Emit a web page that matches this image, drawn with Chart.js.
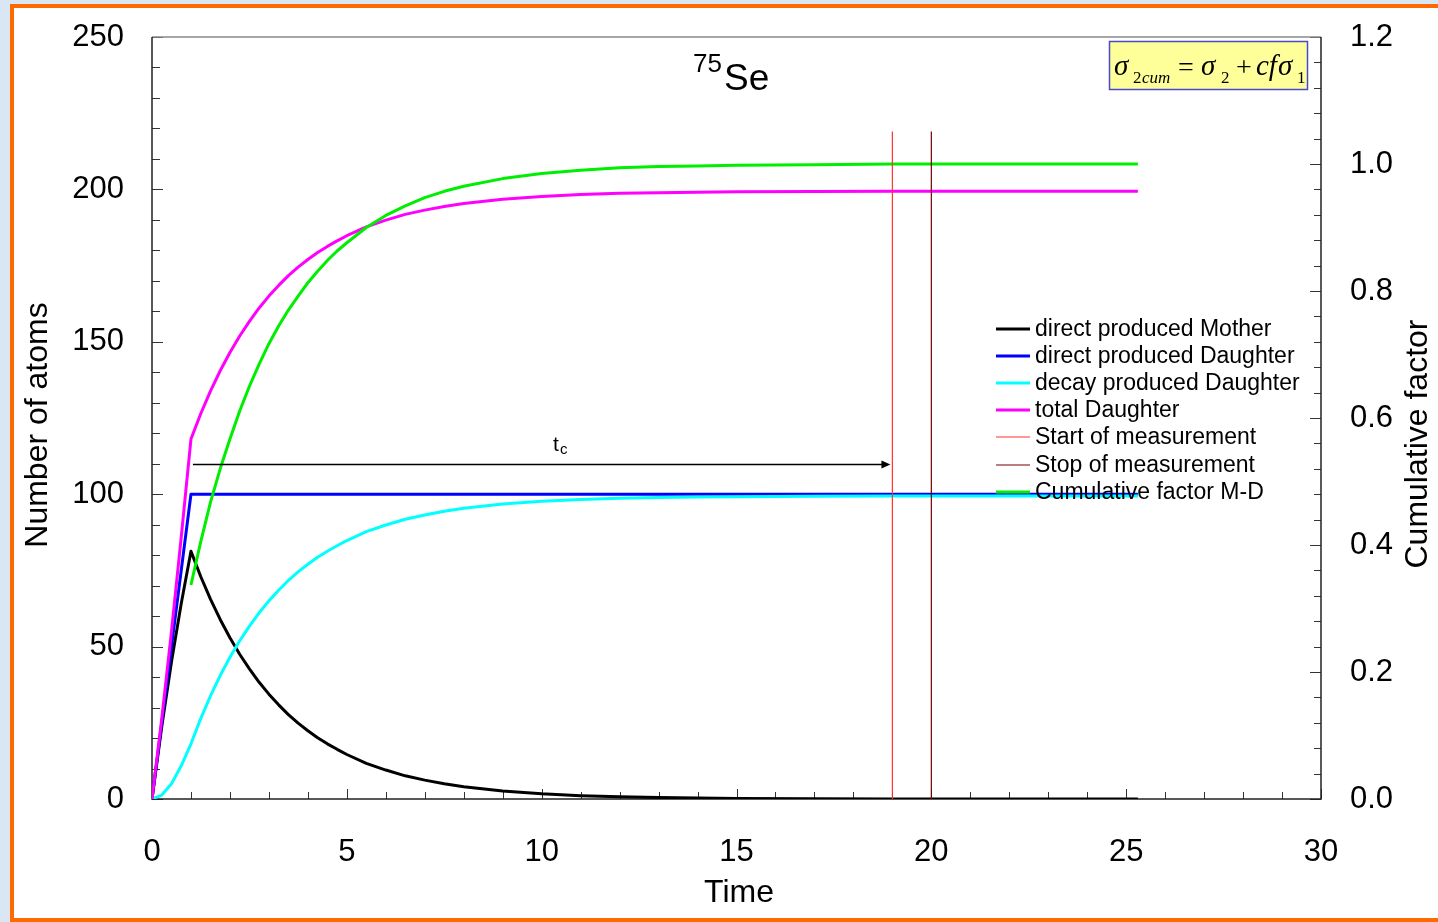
<!DOCTYPE html>
<html>
<head>
<meta charset="utf-8">
<script src="https://cdn.jsdelivr.net/npm/chart.js@4.4.0/dist/chart.umd.min.js"></script>
<style>
  html, body { margin: 0; padding: 0; width: 1438px; height: 922px; overflow: hidden; background: #d9e7f4; }
  #frame { position: absolute; left: 10px; top: 4px; width: 1440px; height: 910px; border: 4px solid #ff6a00; background: #fff; }
  #plot { position: absolute; left: 0; top: 0; }
</style>
</head>
<body>
<div id="frame"></div>
<canvas id="plot" width="1438" height="922"></canvas>
<script>
// time axis (same grid for every series)
const time = [0, 0.25, 0.5, 0.75, 1, 1.25, 1.5, 1.75, 2, 2.25, 2.5, 2.75, 3, 3.25, 3.5, 3.75, 4, 4.25, 4.5, 4.75, 5,
  5.5, 6, 6.5, 7, 7.5, 8, 9, 10, 11, 12, 13, 14, 15, 17, 19, 21, 23, 25.3];

const mother = [0, 23.7, 45.0, 64.1, 81.3, 73.0, 65.6, 58.9, 52.9, 47.5, 42.7, 38.3, 34.4, 30.9, 27.7, 24.9, 22.4, 20.1, 18.1, 16.3, 14.6,
  11.7, 9.5, 7.6, 6.2, 5.0, 4.0, 2.6, 1.7, 1.1, 0.7, 0.5, 0.3, 0.2, 0.1, 0, 0, 0, 0];

const directDaughter = [0, 25, 50, 75, 100, 100, 100, 100, 100, 100, 100, 100, 100, 100, 100, 100, 100, 100, 100, 100, 100,
  100, 100, 100, 100, 100, 100, 100, 100, 100, 100, 100, 100, 100, 100, 100, 100, 100, 100];

const decayDaughter = [0, 1.3, 5.0, 10.9, 18.1, 26.4, 33.8, 40.5, 46.5, 51.9, 56.7, 61.1, 65.0, 68.5, 71.7, 74.5, 77.0, 79.3, 81.3, 83.1, 84.8,
  87.7, 89.9, 91.8, 93.2, 94.4, 95.4, 96.8, 97.7, 98.3, 98.7, 98.9, 99.1, 99.2, 99.3, 99.4, 99.4, 99.4, 99.4];

const totalDaughter = [0, 26.3, 55.0, 85.9, 118.1, 126.4, 133.8, 140.5, 146.5, 151.9, 156.7, 161.1, 165.0, 168.5, 171.7, 174.5, 177.0, 179.3, 181.3, 183.1, 184.8,
  187.7, 189.9, 191.8, 193.2, 194.4, 195.4, 196.8, 197.7, 198.3, 198.7, 198.9, 199.1, 199.2, 199.3, 199.4, 199.4, 199.4, 199.4];

// right axis
const cumFactor = [null, null, null, null, 0.337, 0.405, 0.467, 0.520, 0.567, 0.611, 0.650, 0.685, 0.717, 0.745, 0.770, 0.792, 0.813, 0.831, 0.848, 0.863, 0.876,
  0.900, 0.919, 0.934, 0.947, 0.957, 0.965, 0.977, 0.985, 0.990, 0.994, 0.996, 0.997, 0.998, 0.999, 1.0, 1.0, 1.0, 1.0];

// measurement window
const startTime = 19;
const stopTime = 20;
const markerTop = 219;
const tcSpan = [1.05, 18.95];
const tcLevel = 110;

const pts = (ys) => time.map((t, i) => ({ x: t, y: ys[i] }));
const vline = (t) => [{ x: t, y: 0 }, { x: t, y: markerTop }];

const FONT = "'Liberation Sans', Arial, sans-serif";
const SERIF = "'Liberation Serif', 'Times New Roman', serif";

const frameTicks = {
  id: 'frameTicks',
  beforeDatasetsDraw(chart) {
    const { ctx, chartArea: a, scales: { x, y, y1 } } = chart;
    ctx.save();
    ctx.lineWidth = 1;
    ctx.strokeStyle = '#333';
    ctx.beginPath();
    for (let i = 0; i <= 30; i++) {
      const px = Math.round(x.getPixelForValue(i)) + 0.5;
      const len = i % 5 === 0 ? 10 : 7;
      ctx.moveTo(px, a.bottom); ctx.lineTo(px, a.bottom - len);
    }
    for (let i = 0; i <= 25; i++) {
      const py = Math.round(y.getPixelForValue(i * 10)) + 0.5;
      const len = i % 5 === 0 ? 11 : 8;
      ctx.moveTo(a.left, py); ctx.lineTo(a.left + len, py);
    }
    for (let i = 0; i <= 30; i++) {
      const py = Math.round(y1.getPixelForValue(i * 0.04)) + 0.5;
      const len = i % 5 === 0 ? 11 : 7;
      ctx.moveTo(a.right, py); ctx.lineTo(a.right - len, py);
    }
    ctx.stroke();

    // plot frame
    ctx.lineWidth = 1.5;
    ctx.strokeStyle = '#8a8a8a';
    ctx.beginPath(); ctx.moveTo(a.left, a.top); ctx.lineTo(a.right, a.top); ctx.stroke();
    ctx.strokeStyle = '#222';
    ctx.beginPath();
    ctx.moveTo(a.left, a.top); ctx.lineTo(a.left, a.bottom); ctx.lineTo(a.right, a.bottom); ctx.lineTo(a.right, a.top);
    ctx.stroke();
    ctx.restore();
  }
};

const overlay = {
  id: 'overlay',
  afterDatasetsDraw(chart) {
    const { ctx, scales: { x, y } } = chart;
    ctx.save();

    // t_c arrow
    const x0 = x.getPixelForValue(tcSpan[0]);
    const x1 = x.getPixelForValue(tcSpan[1]);
    const ya = Math.round(y.getPixelForValue(tcLevel)) + 0.5;
    ctx.strokeStyle = '#000';
    ctx.fillStyle = '#000';
    ctx.lineWidth = 1.5;
    ctx.beginPath(); ctx.moveTo(x0, ya); ctx.lineTo(x1 - 6, ya); ctx.stroke();
    ctx.beginPath(); ctx.moveTo(x1, ya); ctx.lineTo(x1 - 9, ya - 4); ctx.lineTo(x1 - 9, ya + 4); ctx.closePath(); ctx.fill();
    ctx.textBaseline = 'alphabetic';
    ctx.textAlign = 'left';
    ctx.font = '21px ' + FONT;
    ctx.fillText('t', 553, 451);
    ctx.font = '15px ' + FONT;
    ctx.fillText('c', 560, 454);

    // title
    ctx.font = '26px ' + FONT;
    ctx.fillText('75', 693, 72);
    ctx.font = '37px ' + FONT;
    ctx.fillText('Se', 724, 90);

    // formula box
    ctx.fillStyle = '#ffff99';
    ctx.fillRect(1109, 41, 199, 49);
    ctx.strokeStyle = '#4a4ad0';
    ctx.lineWidth = 1.5;
    ctx.strokeRect(1109.5, 41.5, 198, 48);
    ctx.fillStyle = '#000';
    const big = 'italic 29px ' + SERIF;
    const up = '28px ' + SERIF;
    const sub = '17px ' + SERIF;
    const subI = 'italic 17px ' + SERIF;
    [
      ['\u03c3', 1114, 75, big], ['2', 1133, 83, sub], ['cum', 1142, 83, subI],
      ['=', 1178, 76, up], ['\u03c3', 1201, 75, big], ['2', 1221, 83, sub],
      ['+', 1236, 76, up], ['cf', 1256, 75, big], ['\u03c3', 1278, 75, big], ['1', 1297, 83, sub]
    ].forEach(([t, px, py, f]) => { ctx.font = f; ctx.fillText(t, px, py); });

    // legend
    ctx.font = '23px ' + FONT;
    ctx.textBaseline = 'middle';
    chart.data.datasets.forEach((ds, i) => {
      const ly = Math.round(328.5 + i * 27.2);
      ctx.strokeStyle = ds.borderColor;
      ctx.lineWidth = ds.borderWidth;
      ctx.beginPath(); ctx.moveTo(996, ly); ctx.lineTo(1030, ly); ctx.stroke();
      ctx.fillStyle = '#000';
      ctx.fillText(ds.label, 1035, ly + 1);
    });

    // axis titles
    ctx.font = '32px ' + FONT;
    ctx.textAlign = 'center';
    ctx.fillText('Time', 739, 893);
    ctx.save(); ctx.translate(38, 425); ctx.rotate(-Math.PI / 2); ctx.fillText('Number of atoms', 0, 0); ctx.restore();
    ctx.save(); ctx.translate(1418, 444); ctx.rotate(-Math.PI / 2); ctx.fillText('Cumulative factor', 0, 0); ctx.restore();

    ctx.restore();
  }
};

const tickFont = { family: FONT, size: 31 };
const fitY = (w) => (s) => { s.width = w; s.paddingTop = 0; s.paddingBottom = 0; };

new Chart(document.getElementById('plot'), {
  type: 'line',
  data: {
    datasets: [
      { label: 'direct produced Mother', data: pts(mother), borderColor: '#000000', borderWidth: 3, yAxisID: 'y', order: 6 },
      { label: 'direct produced Daughter', data: pts(directDaughter), borderColor: '#0000ff', borderWidth: 3, yAxisID: 'y', order: 5 },
      { label: 'decay produced Daughter', data: pts(decayDaughter), borderColor: '#00ffff', borderWidth: 3, yAxisID: 'y', order: 4 },
      { label: 'total Daughter', data: pts(totalDaughter), borderColor: '#ff00ff', borderWidth: 3, yAxisID: 'y', order: 3 },
      { label: 'Start of measurement', data: vline(startTime), borderColor: '#ff3030', borderWidth: 1.2, yAxisID: 'y', order: 1 },
      { label: 'Stop of measurement', data: vline(stopTime), borderColor: '#700000', borderWidth: 1.2, yAxisID: 'y', order: 0 },
      { label: 'Cumulative factor M-D', data: pts(cumFactor), borderColor: '#00ee00', borderWidth: 3, yAxisID: 'y1', order: 2 }
    ]
  },
  options: {
    responsive: false,
    animation: false,
    layout: { padding: { top: 37, left: 0, right: 0, bottom: 0 } },
    plugins: { legend: { display: false }, tooltip: { enabled: false } },
    elements: {
      point: { radius: 0 },
      line: { tension: 0, borderJoinStyle: 'round', borderCapStyle: 'butt' }
    },
    scales: {
      x: {
        type: 'linear', min: 0, max: 30,
        grid: { display: false, drawTicks: false }, border: { display: false },
        ticks: { stepSize: 5, padding: 35, color: '#000', font: tickFont, maxRotation: 0 },
        afterFit: (s) => { s.height = 123; s.paddingLeft = 0; s.paddingRight = 0; }
      },
      y: {
        position: 'left', min: 0, max: 250,
        grid: { display: false, drawTicks: false }, border: { display: false },
        ticks: { stepSize: 50, padding: 28, color: '#000', font: tickFont },
        afterFit: fitY(152)
      },
      y1: {
        position: 'right', min: 0, max: 1.2,
        grid: { display: false, drawTicks: false }, border: { display: false },
        ticks: { stepSize: 0.2, padding: 29, color: '#000', font: tickFont, callback: (v) => v.toFixed(1) },
        afterFit: fitY(117)
      }
    }
  },
  plugins: [frameTicks, overlay]
});
</script>
</body>
</html>
